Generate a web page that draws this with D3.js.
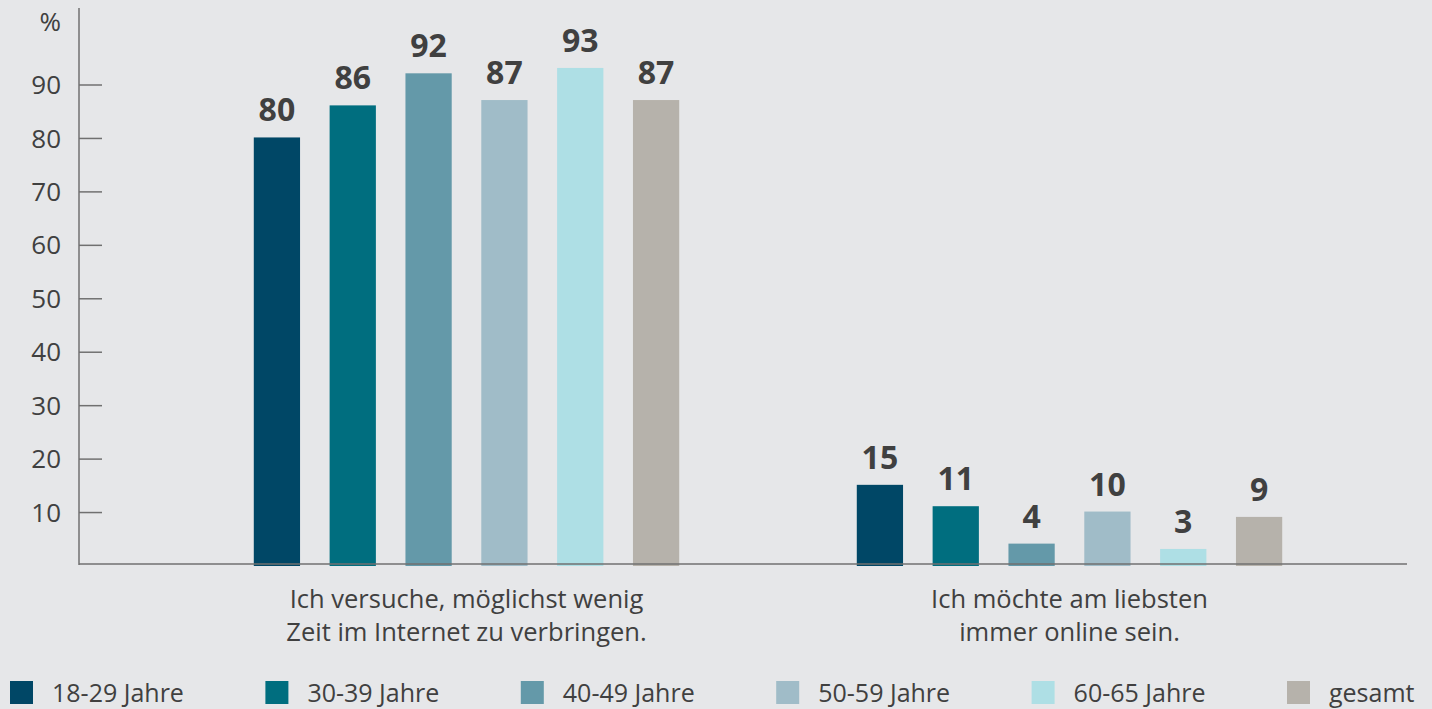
<!DOCTYPE html>
<html>
<head>
<meta charset="utf-8">
<style>
  html, body { margin: 0; padding: 0; background: #e6e7e9; }
  svg { display: block; }
  text { font-family: "Open Sans", sans-serif; fill: #404040; }
  .axis path, .axis line { stroke: #707070; stroke-width: 1.5px; }
</style>
</head>
<body>
<div id="chart"></div>
<script src="https://d3js.org/d3.v7.min.js"></script>
<script>
// data
var groups = ["Ich versuche, möglichst wenig\nZeit im Internet zu verbringen.", "Ich möchte am liebsten\nimmer online sein."];
var series = ["18-29 Jahre", "30-39 Jahre", "40-49 Jahre", "50-59 Jahre", "60-65 Jahre", "gesamt"];
var valuesWenig = [80, 86, 92, 87, 93, 87];
var valuesOnline = [15, 11, 4, 10, 3, 9];
var colors = ["#004766", "#006e7f", "#6499a9", "#a0bcc8", "#aedfe5", "#b6b2ab"];
var yTicks = [10, 20, 30, 40, 50, 60, 70, 80, 90];

var width = 1432, height = 709;
var svg = d3.select("#chart").append("svg")
    .attr("width", width).attr("height", height);

var table = groups.map(function(g, i) {
  var vals = i === 0 ? valuesWenig : valuesOnline;
  return { group: g, values: series.map(function(s, j) { return { key: s, value: vals[j], color: colors[j] }; }) };
});

var x0 = d3.scaleBand().domain(groups).range([165, 1371]).padding(0);
var x1 = d3.scaleBand().domain(series).range([0, 455]).paddingInner(0.39).paddingOuter(0.195);
var y = d3.scaleLinear().domain([0, 90]).range([565, 84]);

// y axis
var yAxis = svg.append("g").attr("class", "axis")
  .attr("transform", "translate(79,0)");
yAxis.append("line").attr("x1", 0).attr("x2", 0).attr("y1", 8).attr("y2", y(0));
yAxis.selectAll(".tick").data(yTicks).enter().append("g")
  .attr("class", "tick")
  .attr("transform", function(d) { return "translate(0," + (y(d) + 1) + ")"; })
  .each(function() {
    var g = d3.select(this);
    g.append("line").attr("x1", 0).attr("x2", 23);
    g.append("text").attr("x", -18).attr("dy", "0.35em")
      .attr("text-anchor", "end").style("font-size", "26px")
      .text(function(d) { return d; });
  });
yAxis.append("text").attr("x", -18).attr("y", 31)
  .attr("text-anchor", "end").style("font-size", "26px").text("%");

// bars
var grp = svg.selectAll(".grp").data(table).enter().append("g")
  .attr("class", "grp")
  .attr("transform", function(d) { return "translate(" + (x0(d.group) + x0.bandwidth() / 2 - 227.5) + ",0)"; });

grp.selectAll("rect").data(function(d) { return d.values; }).enter().append("rect")
  .attr("x", function(d) { return x1(d.key); })
  .attr("width", x1.bandwidth())
  .attr("y", function(d) { return y(d.value); })
  .attr("height", function(d) { return y(0) - y(d.value) + 1; })
  .attr("fill", function(d) { return d.color; });

grp.selectAll(".val").data(function(d) { return d.values; }).enter().append("text")
  .attr("class", "val")
  .attr("x", function(d) { return x1(d.key) + x1.bandwidth() / 2; })
  .attr("y", function(d) { return y(d.value) - 16; })
  .attr("text-anchor", "middle")
  .style("font-size", "32px").style("font-weight", "bold")
  .text(function(d) { return d.value; });

// x baseline
svg.append("line").attr("class", "axis")
  .attr("x1", 79).attr("x2", 1407).attr("y1", 564).attr("y2", 564)
  .style("stroke", "#707070").style("stroke-width", "1.5px");

// category labels
svg.selectAll(".cat").data(groups).enter().append("text")
  .attr("class", "cat")
  .attr("text-anchor", "middle")
  .attr("transform", function(d) { return "translate(" + (x0(d) + x0.bandwidth() / 2) + ",608)"; })
  .style("font-size", "25.5px")
  .selectAll("tspan").data(function(d) { return d.split("\n"); }).enter().append("tspan")
  .attr("x", 0).attr("dy", function(d, i) { return i ? 33 : 0; })
  .text(function(d) { return d; });

// legend
var lx = d3.scalePoint().domain(series).range([10, 1287]);
var leg = svg.selectAll(".leg").data(series).enter().append("g")
  .attr("class", "leg")
  .attr("transform", function(d) { return "translate(" + lx(d) + ",681)"; });
leg.append("rect").attr("width", 23).attr("height", 23)
  .attr("fill", function(d, i) { return colors[i]; });
leg.append("text").attr("x", 42).attr("y", 21)
  .style("font-size", "25px").text(function(d) { return d; });
</script>
</body>
</html>
